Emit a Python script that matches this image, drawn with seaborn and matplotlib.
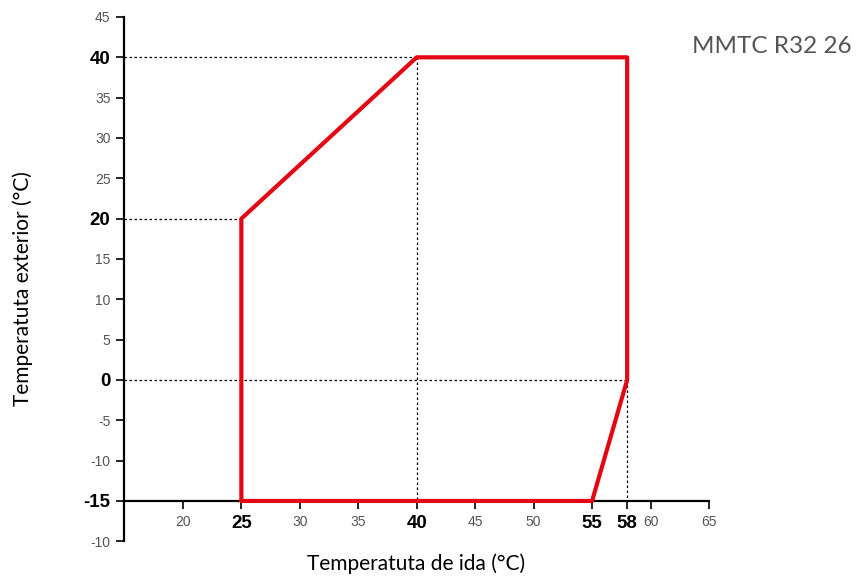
import matplotlib
matplotlib.use("Agg")
import matplotlib.pyplot as plt
import seaborn as sns
import pandas as pd

# Operating envelope
env_ida = [25, 25, 40, 58, 58, 55, 25]
env_ext = [-15, 20, 40, 40, 0, -15, -15]

x_ticks = [20, 25, 30, 35, 40, 45, 50, 55, 58, 60, 65]
x_bold = [25, 40, 55, 58]
y_ticks = [-20, -15, -10, -5, 0, 5, 10, 15, 20, 25, 30, 35, 40, 45]
y_labels = ["-10", "-15", "-10", "-5", "0", "5", "10", "15", "20", "25", "30", "35", "40", "45"]
y_bold = [-15, 0, 20, 40]

sns.set_style("white")
plt.rcParams['font.family'] = ['Liberation Sans', 'DejaVu Sans']

fig = plt.figure(figsize=(8.57, 5.78), dpi=100)
ax = fig.add_axes([0.1452, 0.0635, 0.6821, 0.9071])

df = pd.DataFrame({"ida": env_ida, "ext": env_ext})

# dotted guide lines
ax.plot([15, 40], [40, 40], ls=(0, (2, 2)), color="black", lw=0.9)
ax.plot([15, 25], [20, 20], ls=(0, (2, 2)), color="black", lw=0.9)
ax.plot([15, 58], [0, 0], ls=(0, (2, 2)), color="black", lw=0.9)
ax.plot([40, 40], [40, -15], ls=(0, (2, 2)), color="black", lw=0.9)
ax.plot([58, 58], [0, -15], ls=(0, (2, 2)), color="black", lw=0.9)

sns.lineplot(data=df, x="ida", y="ext", sort=False, estimator=None,
             color="#e30613", lw=3, ax=ax, zorder=5)

ax.set_xlim(15, 65)
ax.set_ylim(-20, 45)

for s in ["top", "right"]:
    ax.spines[s].set_visible(False)
ax.spines["bottom"].set_position(("data", -15))
ax.spines["bottom"].set_bounds(15, 65)
ax.spines["left"].set_linewidth(1.6)
ax.spines["bottom"].set_linewidth(1.6)
ax.spines["left"].set_color("black")
ax.spines["bottom"].set_color("black")

ax.set_xticks(x_ticks)
ax.set_xticklabels([str(v) for v in x_ticks])
ax.set_yticks(y_ticks)
ax.set_yticklabels(y_labels)
ax.tick_params(axis="both", direction="out", length=6, width=1.2, color="black", pad=4,
               bottom=True, left=True)

for lab, v in zip(ax.get_xticklabels(), x_ticks):
    if v in x_bold:
        lab.set_fontsize(13.5); lab.set_fontweight("bold"); lab.set_color("black")
    else:
        lab.set_fontsize(10); lab.set_color("#555555")
for lab, v in zip(ax.get_yticklabels(), y_ticks):
    if v in y_bold:
        lab.set_fontsize(13.5); lab.set_fontweight("bold"); lab.set_color("black")
    else:
        lab.set_fontsize(10); lab.set_color("#555555")

ax.set_xlabel("")
ax.set_ylabel("")
fig.text(0.486, 0.025, "Temperatuta de ida (°C)", ha="center", va="center",
         fontsize=15, color="black", family=["Lato", "DejaVu Sans"])
fig.text(0.026, 0.5, "Temperatuta exterior (°C)", ha="center", va="center",
         rotation=90, fontsize=15, color="black", family=["Lato", "DejaVu Sans"])
fig.text(0.994, 0.92, "MMTC R32 26", ha="right", va="center", fontsize=17.5,
         color="#555555", family=["Lato", "DejaVu Sans"])

fig.savefig("out.png", dpi=100)
